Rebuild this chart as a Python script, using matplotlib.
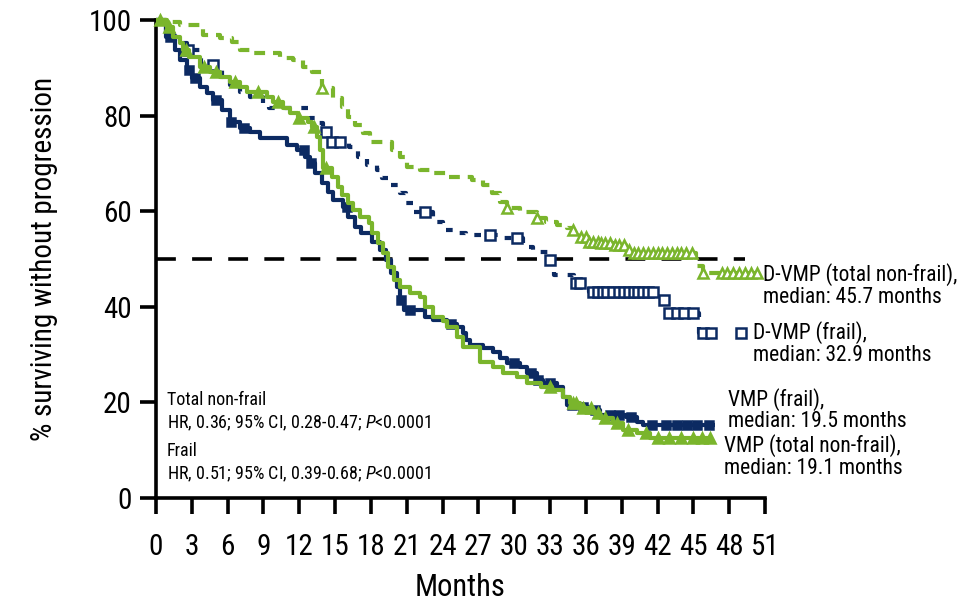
import numpy as np
import matplotlib
matplotlib.use("Agg")
import matplotlib.pyplot as plt
from matplotlib import font_manager

names = {f.name for f in font_manager.fontManager.ttflist}
prefs = ["Liberation Sans Narrow", "Arial Narrow", "Roboto Condensed", "Archivo Narrow",
         "Barlow Semi Condensed", "Liberation Sans"]
fam = [n for n in prefs if n in names] + ['DejaVu Sans']
plt.rcParams['font.family'] = fam
plt.rcParams['mathtext.fontset'] = 'custom'
plt.rcParams['mathtext.it'] = fam[0] + ':italic'
plt.rcParams['mathtext.rm'] = fam[0]

NAVY = "#0c2a62"
GREEN = "#7ab52c"

# ---------------- data (months, % surviving) ----------------
vmp_frail_t = [0, 0.8, 1.6, 2.0, 2.6, 3.0, 3.7, 4.3, 4.8, 5.5, 6.2, 7.0, 7.9, 8.7, 11.0, 11.8, 12.5, 12.9, 13.3,
               13.9, 14.4, 14.8, 15.7, 16.1, 16.7, 17.2, 18.1, 18.8, 19.3, 19.7, 20.2, 20.4, 20.8, 22.5, 23.2,
               24.4, 25.2, 25.7, 26.0, 26.3, 27.4, 28.2, 28.8, 29.4, 30.5, 31.1, 31.9, 32.4, 33.6, 34.1, 34.4,
               35.5, 36.3, 37.2, 39.4, 40.3, 40.8]
vmp_frail_s = [100, 96.4, 93.7, 91.6, 89.5, 87.9, 86.0, 84.7, 83.3, 81.2, 78.7, 77.4, 76.6, 75.4, 73.8, 72.8, 71.3,
               70.1, 68.0, 65.9, 64.0, 62.3, 60.9, 58.8, 56.7, 55.4, 53.6, 51.9, 49.8, 47.1, 44.1, 41.4, 39.3, 37.9,
               37.2, 36.4, 35.8, 34.5, 33.1, 32.0, 31.4, 30.5, 29.3, 28.2, 27.4, 26.2, 24.7, 24.1, 23.2, 21.1, 19.5,
               19.0, 18.4, 17.4, 16.9, 15.9, 15.3]
vmp_frail_end = 46.8
vmp_frail_cens = [1.2, 2.8, 3.3, 5.0, 6.3, 7.4, 12.4, 13.0, 16.0, 20.5, 21.3, 24.7, 30.0, 31.4, 32.0, 33.0,
                  34.8, 35.8, 36.8, 38.0, 38.8, 39.8, 41.5, 42.7, 43.6, 44.5, 45.3, 46.3]

vmp_nf_t = [0, 0.9, 1.4, 2.0, 2.3, 2.8, 3.7, 4.5, 5.4, 6.2, 7.0, 7.6, 9.3, 9.8, 10.6, 11.2, 11.9, 12.7, 13.1, 13.5,
            13.7, 14.0, 14.7, 15.2, 15.6, 16.1, 16.5, 17.1, 17.8, 18.1, 18.6, 19.0, 19.4, 19.9, 20.4, 21.3, 22.1,
            22.5, 23.2, 24.0, 24.4, 25.2, 25.7, 27.1, 28.2, 29.1, 30.2, 31.1, 32.2, 33.2, 34.1, 34.7, 35.5, 36.6,
            37.2, 38.3, 39.1, 40.3, 41.4]
vmp_nf_s = [100, 98.5, 96.4, 95.2, 93.7, 92.3, 90.2, 89.1, 88.1, 87.0, 86.0, 85.0, 83.9, 82.8, 81.6, 80.5, 79.5,
            78.7, 77.6, 75.5, 72.8, 69.0, 67.2, 65.1, 63.4, 61.7, 60.3, 58.8, 57.5, 55.4, 53.3, 51.3, 48.3, 45.6,
            44.1, 42.9, 42.0, 40.0, 37.9, 37.0, 35.8, 33.7, 31.6, 28.5, 27.4, 26.2, 25.3, 24.1, 23.2, 22.6, 21.1,
            19.9, 18.8, 17.8, 16.7, 15.7, 14.2, 13.6, 12.6]
vmp_nf_end = 46.4
vmp_nf_cens = [0.3, 1.1, 2.5, 4.0, 5.0, 6.6, 8.5, 10.2, 12.0, 13.2, 14.2, 33.0, 34.9, 35.2, 35.8, 36.4, 37.0,
               37.6, 38.6, 39.5, 41.0, 42.0, 43.0, 44.0, 45.0, 45.7, 46.4]

dvmp_frail_t = [0, 0.8, 1.6, 2.6, 3.8, 5.5, 6.2, 7.0, 7.9, 9.0, 9.5, 12.9, 13.5, 14.0, 14.5, 16.2, 16.9, 17.7,
                18.5, 18.9, 19.6, 20.4, 20.9, 21.5, 23.2, 24.0, 24.9, 26.0, 28.8, 30.7, 31.6, 32.9, 33.3, 35.0,
                35.6, 36.3, 42.3, 42.8, 45.5]
dvmp_frail_s = [100, 97.5, 95.2, 93.7, 90.6, 88.0, 86.5, 85.0, 83.9, 82.6, 81.6, 79.5, 78.4, 76.6, 74.5, 73.4,
                71.3, 69.7, 68.6, 66.9, 65.5, 63.8, 61.7, 59.8, 57.7, 56.0, 55.4, 55.0, 54.4, 52.5, 51.5, 49.8,
                46.7, 45.0, 44.1, 43.1, 41.4, 38.7, 34.6]
dvmp_frail_end = 47.4
dvmp_frail_cens = [2.7, 4.8, 14.2, 14.7, 15.4, 22.5, 28.0, 30.2, 33.0, 35.2, 35.5, 36.6, 37.0, 37.4, 37.8,
                   38.3, 38.8, 39.2, 39.6, 40.0, 40.4, 40.8, 41.2, 41.6, 42.5, 43.0, 43.6, 44.2, 45.0, 45.8,
                   46.5, 49.0]

dvmp_nf_t = [0, 1.0, 2.0, 3.9, 5.4, 6.4, 7.0, 8.1, 10.4, 11.5, 12.3, 13.1, 13.9, 14.8, 15.6, 16.1, 16.7, 17.3,
             17.9, 19.8, 20.4, 21.0, 22.1, 23.2, 24.4, 26.5, 27.4, 28.1, 28.8, 29.4, 30.5, 31.9, 32.7, 33.6, 34.4,
             34.9, 35.5, 36.1, 37.2, 38.3, 39.4, 40.0, 45.2, 45.8]
dvmp_nf_s = [100, 99.5, 99.0, 96.9, 96.2, 95.4, 93.7, 93.0, 92.0, 91.6, 90.2, 89.1, 85.8, 83.7, 81.8, 79.7, 78.0,
             76.4, 74.5, 72.8, 71.3, 69.2, 68.6, 68.0, 67.2, 66.5, 65.5, 63.8, 62.0, 60.7, 59.8, 58.6, 57.7, 57.1,
             56.5, 56.0, 54.6, 53.6, 53.3, 52.9, 51.9, 51.3, 48.5, 47.1]
dvmp_nf_end = 50.4
dvmp_nf_cens = [13.9, 29.4, 31.9, 34.9, 35.6, 36.0, 36.3, 36.6, 37.0, 37.3, 37.6, 38.0, 38.4, 38.8, 39.2, 39.6,
                40.0, 40.4, 40.8, 41.2, 41.6, 42.0, 42.4, 42.8, 43.2, 43.6, 44.0, 44.4, 44.9, 45.8, 47.4, 47.8,
                48.3, 48.8, 49.3, 49.8, 50.3]

median_line = 50
median_line_end = 49.3

x_ticks = list(range(0, 52, 3))
y_ticks = [0, 20, 40, 60, 80, 100]

labels = {
    "dvmp_nf": "D-VMP (total non-frail),\nmedian: 45.7 months",
    "dvmp_frail": "D-VMP (frail),\nmedian: 32.9 months",
    "vmp_frail": "VMP (frail),\nmedian: 19.5 months",
    "vmp_nf": "VMP (total non-frail),\nmedian: 19.1 months",
}

# ---------------- figure ----------------
W, H = 957, 609
fig = plt.figure(figsize=(W / 100, H / 100), dpi=100)
ax = fig.add_axes([156 / W, 1 - 498 / H, (765 - 156) / W, (498 - 20) / H])
ax.set_xlim(0, 51)
ax.set_ylim(0, 100)


def km(ax, t, s, end, cens, color, ls, dashes, marker, mfc, ms, z):
    tt = list(t) + [end]
    ss = list(s) + [s[-1]]
    line, = ax.plot(tt, ss, drawstyle='steps-post', color=color, lw=3.0, ls=ls, zorder=z,
                    solid_capstyle='butt', dash_capstyle='butt', clip_on=False)
    if dashes is not None:
        line.set_dashes(dashes)
    c = np.asarray(cens)
    idx = np.searchsorted(np.asarray(t), c, side='right') - 1
    cy = np.asarray(s)[idx]
    ax.plot(c, cy, ls='none', marker=marker, ms=ms, mfc=mfc, mec=color, mew=1.8, zorder=z + 0.5,
            clip_on=False)


# median reference line
ax.plot([0, median_line_end], [median_line, median_line], color='black', lw=2.6, ls=(0, (5.5, 4.5)),
        zorder=1)

km(ax, dvmp_nf_t, dvmp_nf_s, dvmp_nf_end, dvmp_nf_cens, GREEN, '--', (2.6, 1.9), '^', 'white', 7.5, 3)
km(ax, dvmp_frail_t, dvmp_frail_s, dvmp_frail_end, dvmp_frail_cens, NAVY, '--', (1.6, 2.4), 's', 'white', 6.5, 3)
km(ax, vmp_frail_t, vmp_frail_s, vmp_frail_end, vmp_frail_cens, NAVY, '-', None, 's', NAVY, 6, 4)
km(ax, vmp_nf_t, vmp_nf_s, vmp_nf_end, vmp_nf_cens, GREEN, '-', None, '^', GREEN, 7, 5)

# axes styling
for side in ['top', 'right']:
    ax.spines[side].set_visible(False)
for side in ['left', 'bottom']:
    ax.spines[side].set_linewidth(2.6)
    ax.spines[side].set_color('black')
ax.set_xticks(x_ticks)
ax.set_yticks(y_ticks)
ax.tick_params(axis='both', direction='out', length=11.5, width=2.6, color='black', labelsize=21)
ax.tick_params(axis='x', pad=14)
ax.tick_params(axis='y', pad=6)
ax.set_xlabel('Months', fontsize=22, labelpad=8)
ax.set_ylabel('% surviving without progression', fontsize=21, labelpad=22)

# statistics annotation
tx = 0.9
sfs = 13
ax.text(tx, 20.6, 'Total non-frail', fontsize=sfs, va='center', ha='left')
ax.text(tx, 15.6, r'HR, 0.36; 95% CI, 0.28-0.47; $\mathit{P}$<0.0001', fontsize=sfs, va='center', ha='left')
ax.text(tx, 9.8, 'Frail', fontsize=sfs, va='center', ha='left')
ax.text(tx, 5.0, r'HR, 0.51; 95% CI, 0.39-0.68; $\mathit{P}$<0.0001', fontsize=sfs, va='center', ha='left')

# curve labels
lab_kw = dict(fontsize=15.5, va='center', ha='left', linespacing=1.05, clip_on=False)
ax.text(50.8, 44.5, labels["dvmp_nf"], **lab_kw)
ax.text(50.0, 32.4, labels["dvmp_frail"], **lab_kw)
ax.text(47.9, 18.4, labels["vmp_frail"], **lab_kw)
ax.text(47.6, 8.6, labels["vmp_nf"], **lab_kw)

fig.savefig('out.png', dpi=100)
